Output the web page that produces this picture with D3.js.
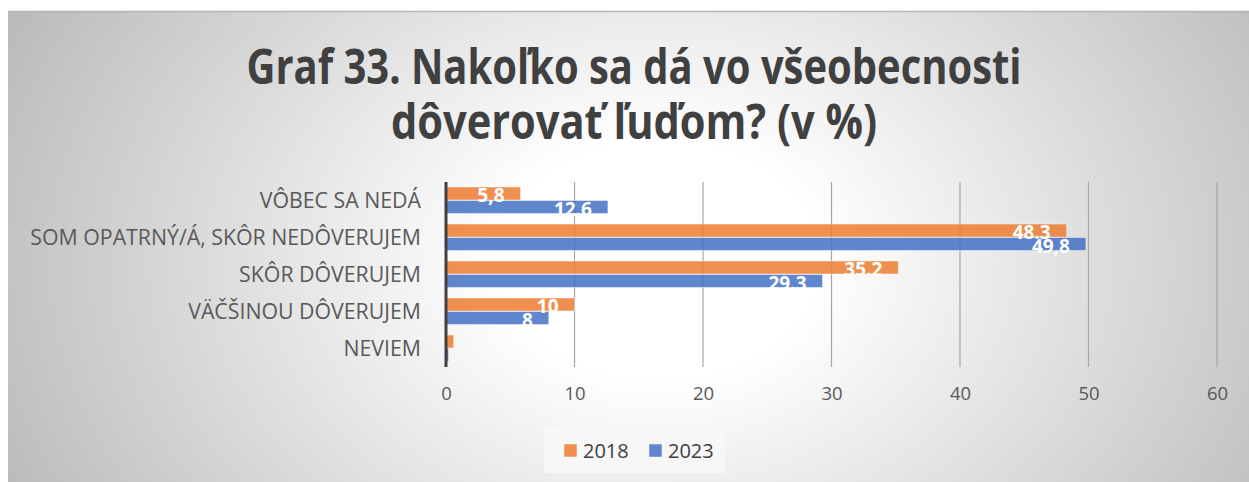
<!DOCTYPE html>
<html>
<head>
<meta charset="utf-8">
<script src="https://cdn.jsdelivr.net/npm/d3@7"></script>
<style>
  html, body { margin: 0; padding: 0; background: #ffffff; }
  svg { display: block; }
  text { font-family: "Open Sans", "Noto Sans", sans-serif; }
</style>
</head>
<body>
<svg id="chart" width="1249" height="482"></svg>
<script>
// ---- data ----
const titleLines = ["Graf 33. Nakoľko sa dá vo všeobecnosti", "dôverovať ľuďom? (v %)"];
const categories = ["VÔBEC SA NEDÁ", "SOM OPATRNÝ/Á, SKÔR NEDÔVERUJEM", "SKÔR DÔVERUJEM", "VÄČŠINOU DÔVERUJEM", "NEVIEM"];
const seriesNames = ["2018", "2023"];
const values2018 = [5.8, 48.3, 35.2, 10, 0.6];
const values2023 = [12.6, 49.8, 29.3, 8, 0.2];
const labels2018 = ["5,8", "48.3", "35.2", "10", ""];
const labels2023 = ["12.6", "49,8", "29.3", "8", ""];
const xTicks = [0, 10, 20, 30, 40, 50, 60];
const colors = ["#ED7D31", "#4472C4"];

const seriesValues = [values2018, values2023];
const seriesLabels = [labels2018, labels2023];

const svg = d3.select("#chart");
const W = 1249, H = 482;

// background gradient
const defs = svg.append("defs");
const grad = defs.append("radialGradient").attr("id", "bg")
  .attr("gradientUnits", "userSpaceOnUse")
  .attr("cx", 660).attr("cy", 260).attr("r", 720)
  .attr("gradientTransform", "translate(660,260) scale(1,0.75) translate(-660,-260)");
grad.append("stop").attr("offset", "0").attr("stop-color", "#ffffff");
grad.append("stop").attr("offset", "0.22").attr("stop-color", "#ffffff");
grad.append("stop").attr("offset", "1").attr("stop-color", "#bbbbbb");

svg.append("rect").attr("x", 8).attr("y", 11).attr("width", W - 8).attr("height", H - 11)
  .attr("fill", "url(#bg)");
svg.append("line").attr("x1", 8).attr("x2", W).attr("y1", 11.5).attr("y2", 11.5)
  .attr("stroke", "#b5b5b5").attr("stroke-width", 1.5);

// title
const titleY = [84, 139];
titleLines.forEach((t, i) => {
  const el = svg.append("text")
    .attr("x", 634).attr("y", titleY[i])
    .attr("text-anchor", "middle")
    .attr("font-size", 48).attr("font-weight", 700)
    .attr("fill", "#404040")
    .text(t);
  const target = i === 0 ? 775 : 486;
  el.attr("textLength", target).attr("lengthAdjust", "spacingAndGlyphs");
});

// scales
const x = d3.scaleLinear().domain([0, 60]).range([446, 1217]);
const y = d3.scaleBand().domain(categories).range([182, 367]).paddingInner(0.27).paddingOuter(0.135);
const ySub = d3.scaleBand().domain(seriesNames).range([0, y.bandwidth()]).padding(0);

// gridlines
svg.append("g").selectAll("line").data(xTicks.filter(d => d > 0)).join("line")
  .attr("x1", d => x(d)).attr("x2", d => x(d))
  .attr("y1", 182).attr("y2", 367)
  .attr("stroke", "#a6a6a6").attr("stroke-width", 1.2);

// bars
const groups = svg.append("g").selectAll("g").data(seriesNames).join("g");
groups.each(function(s, si) {
  d3.select(this).selectAll("rect").data(categories).join("rect")
    .attr("x", x(0))
    .attr("y", (c) => y(c) + ySub(s))
    .attr("width", (c, ci) => x(seriesValues[si][ci]) - x(0))
    .attr("height", ySub.bandwidth() - 0.5)
    .attr("fill", colors[si]).attr("fill-opacity", 0.85)
    .attr("stroke", "#ffffff").attr("stroke-opacity", 0.45).attr("stroke-width", 1);
});

// axis line
svg.append("line").attr("x1", x(0)).attr("x2", x(0)).attr("y1", 182).attr("y2", 367)
  .attr("stroke", "#404040").attr("stroke-width", 3);

// data labels
seriesNames.forEach((s, si) => {
  svg.append("g").selectAll("text").data(categories).join("text")
    .attr("x", (c, ci) => x(seriesValues[si][ci]) - 16)
    .attr("y", c => y(c) + ySub(s) + ySub.bandwidth() / 2 + 8.5)
    .attr("text-anchor", "end")
    .attr("font-size", 19).attr("font-weight", 700)
    .attr("fill", "#ffffff")
    .text((c, ci) => seriesLabels[si][ci]);
});

// category labels
const yAxis = d3.axisLeft(y).tickSize(0).tickPadding(0);
const yAxisG = svg.append("g").attr("transform", `translate(421,0)`).call(yAxis);
yAxisG.select(".domain").remove();
yAxisG.selectAll("text")
  .attr("font-family", "Open Sans, sans-serif")
  .attr("font-size", 21.3).attr("fill", "#595959").attr("dy", "0.35em");

// x axis tick labels
const xAxis = d3.axisBottom(x).tickValues(xTicks).tickSize(0).tickPadding(0);
const xAxisG2 = svg.append("g").attr("transform", "translate(0,390)").call(xAxis);
xAxisG2.select(".domain").remove();
xAxisG2.selectAll("text")
  .attr("font-family", "Open Sans, sans-serif")
  .attr("font-size", 18.5).attr("fill", "#595959").attr("dy", "0.55em");

// legend
const lg = svg.append("g");
lg.append("rect").attr("x", 544).attr("y", 427).attr("width", 181).attr("height", 46)
  .attr("fill", "#f7f7f7");
const legendX = [564, 649];
seriesNames.forEach((s, i) => {
  lg.append("rect").attr("x", legendX[i]).attr("y", 444).attr("width", 13).attr("height", 13)
    .attr("fill", colors[i]).attr("fill-opacity", 0.85)
    .attr("stroke", "#ffffff").attr("stroke-opacity", 0.45);
  lg.append("text").attr("x", legendX[i] + 19).attr("y", 457.5)
    .attr("font-size", 20).attr("fill", "#404040").text(s);
});
</script>
</body>
</html>
